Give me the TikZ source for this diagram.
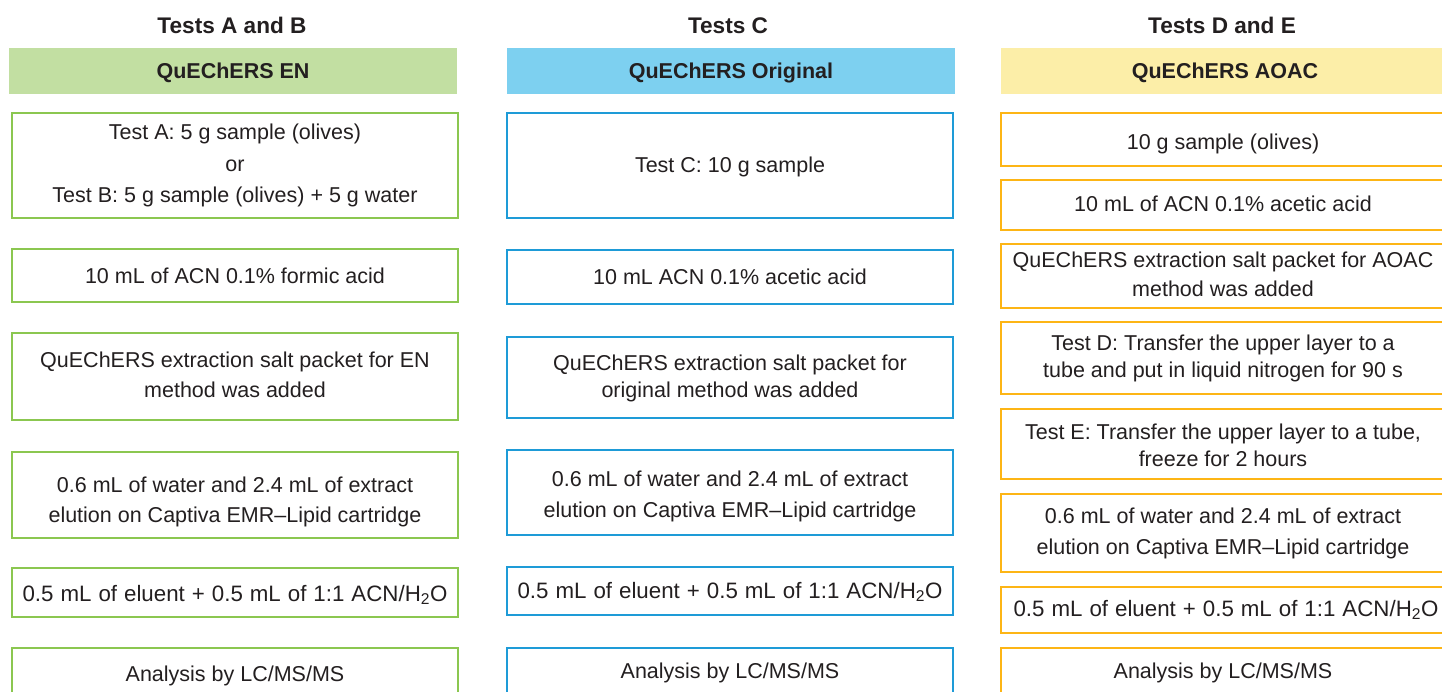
\documentclass[tikz,border=0pt]{standalone}
\usepackage{fontspec}
\setmainfont{Liberation Sans}
\definecolor{txt}{HTML}{231F20}
\definecolor{gbar}{HTML}{C2DFA2}
\definecolor{gline}{HTML}{8BC750}
\definecolor{bbar}{HTML}{7DD0F0}
\definecolor{bline}{HTML}{1E9BD7}
\definecolor{ybar}{HTML}{FCEEA8}
\definecolor{yline}{HTML}{FDB515}
\newcommand\mylines[1]{\begin{tabular}[t]{@{}c@{}}#1\end{tabular}}
\newcommand\mywidespace{\spaceskip=7pt\relax}
\begin{document}
\begin{tikzpicture}[x=1pt,y=-1pt,
  every node/.style={text=txt, inner sep=0pt, outer sep=0pt},
  coltitle/.style={anchor=base, font=\bfseries\fontsize{22.6}{26}\selectfont},
  bar/.style={minimum height=46pt, minimum width=448pt, text height=15.5pt, text depth=0pt, font=\bfseries\fontsize{21.5}{26}\selectfont},
  frame/.style={draw, line width=2.4pt, fill=white},
  greenbox/.style={frame, draw=gline, minimum width=446pt},
  bluebox/.style={frame, draw=bline, minimum width=446pt},
  yellowbox/.style={frame, draw=yline, minimum width=448pt},
  steptext/.style={anchor=base, font=\fontsize{21.5}{30}\selectfont},
  widetext/.style={anchor=base, font=\fontsize{22.3}{30}\selectfont\mywidespace},
  skipA/.style={font=\fontsize{21.5}{27.5}\selectfont},
  skipB/.style={font=\fontsize{21.5}{31.5}\selectfont}]
\useasboundingbox (0,0) rectangle (1442,692);
\clip (0,0) rectangle (1442,692);
% column titles
\node[coltitle] (tA) at (232,34) {Tests A and B};
\node[coltitle] (tC) at (728,34) {Tests C};
\node[coltitle] (tD) at (1222,34) {Tests D and E};
% bars
\node[bar, fill=gbar] (barA) at (233,71) {QuEChERS EN};
\node[bar, fill=bbar] (barC) at (731,71) {QuEChERS Original};
\node[bar, fill=ybar] (barD) at (1225,71) {QuEChERS AOAC};
% left column frames
\node[greenbox, minimum height=105pt] (a1) at (235,165.5) {};
\node[greenbox, minimum height=53pt] (a2) at (235,275.5) {};
\node[greenbox, minimum height=87pt] (a3) at (235,376.5) {};
\node[greenbox, minimum height=86pt] (a4) at (235,495) {};
\node[greenbox, minimum height=49pt] (a5) at (235,592.5) {};
\node[greenbox, minimum height=50pt] (a6) at (235,673) {};
% left column texts
\node[steptext, skipB] (a1t) at (235,140) {\mylines{Test A: 5 g sample (olives)\\or\\Test B: 5 g sample (olives) + 5 g water}};
\node[steptext] (a2t) at (235,284) {10 mL of ACN 0.1\% formic acid};
\node[steptext] (a3t) at (235,367) {\mylines{QuEChERS extraction salt packet for EN\\method was added}};
\node[steptext] (a4t) at (235,492) {\mylines{0.6 mL of water and 2.4 mL of extract\\elution on Captiva EMR–Lipid cartridge}};
\node[widetext] (a5t) at (235,601) {0.5 mL of eluent + 0.5 mL of 1:1 ACN/H\textsubscript{2}O};
\node[steptext] (a6t) at (235,681) {Analysis by LC/MS/MS};
% middle column frames
\node[bluebox, minimum height=105pt] (c1) at (730,165.5) {};
\node[bluebox, minimum height=54pt] (c2) at (730,277) {};
\node[bluebox, minimum height=81pt] (c3) at (730,377.5) {};
\node[bluebox, minimum height=85pt] (c4) at (730,492.5) {};
\node[bluebox, minimum height=48pt] (c5) at (730,591) {};
\node[bluebox, minimum height=50pt] (c6) at (730,673) {};
% middle column texts
\node[steptext] (c1t) at (730,173) {Test C: 10 g sample};
\node[steptext] (c2t) at (730,285) {10 mL ACN 0.1\% acetic acid};
\node[steptext, skipA] (c3t) at (730,370) {\mylines{QuEChERS extraction salt packet for\\original method was added}};
\node[steptext, skipB] (c4t) at (730,486) {\mylines{0.6 mL of water and 2.4 mL of extract\\elution on Captiva EMR–Lipid cartridge}};
\node[widetext] (c5t) at (730,598) {0.5 mL of eluent + 0.5 mL of 1:1 ACN/H\textsubscript{2}O};
\node[steptext] (c6t) at (730,678) {Analysis by LC/MS/MS};
% right column frames
\node[yellowbox, minimum height=53pt] (d1) at (1225,139.5) {};
\node[yellowbox, minimum height=50pt] (d2) at (1225,205) {};
\node[yellowbox, minimum height=64pt] (d3) at (1225,276) {};
\node[yellowbox, minimum height=72pt] (d4) at (1225,358) {};
\node[yellowbox, minimum height=70pt] (d5) at (1225,444) {};
\node[yellowbox, minimum height=78pt] (d6) at (1225,533) {};
\node[yellowbox, minimum height=46pt] (d7) at (1225,610) {};
\node[yellowbox, minimum height=50pt] (d8) at (1225,673) {};
% right column texts
\node[steptext] (d1t) at (1223,150) {10 g sample (olives)};
\node[steptext] (d2t) at (1223,212) {10 mL of ACN 0.1\% acetic acid};
\node[steptext, font=\fontsize{21.5}{29}\selectfont] (d3t) at (1223,268) {\mylines{QuEChERS extraction salt packet for AOAC\\method was added}};
\node[steptext, skipA] (d4t) at (1223,350) {\mylines{Test D: Transfer the upper layer to a\\tube and put in liquid nitrogen for 90 s}};
\node[steptext, skipA] (d5t) at (1223,439) {\mylines{Test E: Transfer the upper layer to a tube,\\freeze for 2 hours}};
\node[steptext, skipB] (d6t) at (1223,523) {\mylines{0.6 mL of water and 2.4 mL of extract\\elution on Captiva EMR–Lipid cartridge}};
\node[widetext] (d7t) at (1226,616) {0.5 mL of eluent + 0.5 mL of 1:1 ACN/H\textsubscript{2}O};
\node[steptext] (d8t) at (1223,678) {Analysis by LC/MS/MS};
\end{tikzpicture}
\end{document}
